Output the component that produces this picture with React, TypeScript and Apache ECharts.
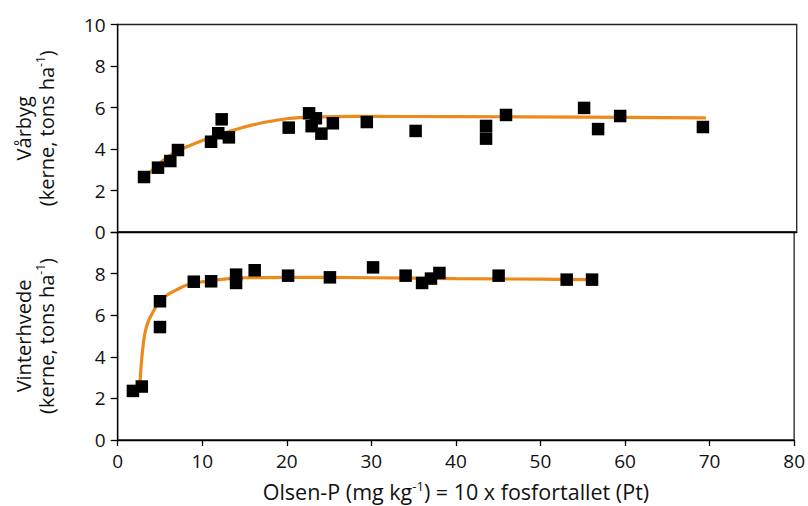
import React, { useEffect, useRef } from "react";
import * as echarts from "echarts";

// Vårbyg (spring barley) observations [Olsen-P, yield]
const barleyPoints: [number, number][] = [
  [3.1, 2.65], [4.75, 3.1], [6.2, 3.42], [7.1, 3.95], [11.0, 4.35],
  [11.85, 4.76], [12.25, 5.43], [13.1, 4.56], [20.15, 5.03], [22.55, 5.72],
  [23.35, 5.48], [22.85, 5.1], [24.0, 4.74], [25.35, 5.24], [29.35, 5.3],
  [35.1, 4.87], [43.4, 5.11], [43.4, 4.5], [45.75, 5.64], [54.95, 5.98],
  [56.6, 4.96], [59.2, 5.59], [68.95, 5.06],
];
// fitted response curve
const barleyCurve: [number, number][] = [
  [3.6, 2.78], [5.4, 3.47], [7.3, 3.95], [9.3, 4.3], [11.3, 4.6],
  [14.4, 5.0], [17.5, 5.3], [20.1, 5.47], [23, 5.54], [28, 5.57],
  [40, 5.56], [55, 5.54], [69.3, 5.5],
];

// Vinterhvede (winter wheat) observations
const wheatPoints: [number, number][] = [
  [1.8, 2.36], [2.85, 2.57], [5.0, 6.67], [5.0, 5.43], [9.0, 7.61],
  [11.05, 7.63], [14.0, 7.95], [14.0, 7.55], [16.2, 8.16], [20.15, 7.9],
  [25.1, 7.82], [30.2, 8.3], [34.05, 7.9], [36.0, 7.55], [37.05, 7.76],
  [38.05, 8.03], [45.05, 7.9], [53.1, 7.71], [56.1, 7.71],
];
const wheatCurve: [number, number][] = [
  [2.63, 2.7], [2.94, 4.3], [3.4, 5.45], [4.2, 6.18], [5.4, 6.83],
  [7.0, 7.23], [8.5, 7.5], [10.5, 7.63], [12, 7.71], [15, 7.8],
  [20, 7.82], [30, 7.8], [40, 7.76], [50, 7.73], [56, 7.71],
];

const xTicks = [0, 10, 20, 30, 40, 50, 60, 70, 80];
const yTicks = [0, 2, 4, 6, 8, 10];

const FONT = "'Open Sans', 'Noto Sans', sans-serif";
const TXT = "#111";
const ORANGE = "#EE8A1A";
const TICK_FS = 19;
const TITLE_FS = 20;
const XTITLE_FS = 21.5;

export default function App() {
  const ref = useRef<HTMLDivElement>(null);
  useEffect(() => {
    if (!ref.current) return;
    const chart = echarts.init(ref.current, null, { renderer: "svg" });
    const richBase = {
      t: { fontSize: TITLE_FS, fontFamily: FONT, color: TXT, lineHeight: 23 },
      s: { fontSize: 12, fontFamily: FONT, color: TXT, lineHeight: 13, verticalAlign: "top" },
    };
    const richX = {
      t: { fontSize: XTITLE_FS, fontFamily: FONT, color: TXT, lineHeight: 25 },
      s: { fontSize: 13, fontFamily: FONT, color: TXT, lineHeight: 14, verticalAlign: "top" },
    };
    const yAxisBase = (gridIndex: number, name: string, hideTop: boolean) => ({
      type: "value",
      gridIndex,
      min: yTicks[0],
      max: yTicks[yTicks.length - 1],
      interval: 2,
      name,
      nameLocation: "middle",
      nameGap: 60,
      nameRotate: 90,
      nameTextStyle: { rich: richBase, align: "center" },
      axisLine: { show: true, lineStyle: { color: "#000", width: 1.3 } },
      axisTick: { show: true, inside: false, length: 7, lineStyle: { color: "#000", width: 1.3 } },
      axisLabel: {
        margin: 12,
        fontSize: TICK_FS,
        fontFamily: FONT,
        color: TXT,
        formatter: (v: number) => (hideTop && v === 10 ? "" : String(v)),
      },
      splitLine: { show: false },
    });
    chart.setOption({
      animation: false,
      backgroundColor: "#fff",
      grid: [
        { left: 117.7, right: 11.3, top: 24.5, height: 207.5, show: true, borderColor: "#222", borderWidth: 1.3, backgroundColor: "transparent" },
        { left: 117.7, right: 11.3, top: 232, height: 208, show: true, borderColor: "#222", borderWidth: 1.3, backgroundColor: "transparent" },
      ],
      xAxis: [
        {
          type: "value", gridIndex: 0, min: xTicks[0], max: xTicks[xTicks.length - 1], interval: 10,
          axisLine: { show: true, lineStyle: { color: "#000", width: 1.3 } },
          axisTick: { show: false }, axisLabel: { show: false }, splitLine: { show: false },
        },
        {
          type: "value", gridIndex: 1, min: xTicks[0], max: xTicks[xTicks.length - 1], interval: 10,
          name: "{t|Olsen-P (mg kg}{s|-1}{t|) = 10 x fosfortallet (Pt)}",
          nameLocation: "middle",
          nameGap: 39,
          nameTextStyle: { rich: richX },
          axisLine: { show: true, lineStyle: { color: "#000", width: 1.3 } },
          axisTick: { show: true, inside: false, length: 6, lineStyle: { color: "#000", width: 1.3 } },
          axisLabel: { margin: 11, fontSize: TICK_FS, fontFamily: FONT, color: TXT },
          splitLine: { show: false },
        },
      ],
      yAxis: [
        yAxisBase(0, "{t|Vårbyg}\n{t|(kerne, tons ha}{s|-1}{t|)}", false),
        yAxisBase(1, "{t|Vinterhvede}\n{t|(kerne, tons ha}{s|-1}{t|)}", true),
      ],
      series: [
        {
          type: "line", xAxisIndex: 0, yAxisIndex: 0, data: barleyCurve, smooth: 0.4,
          showSymbol: false, lineStyle: { color: ORANGE, width: 3.2 }, z: 2,
        },
        {
          type: "scatter", xAxisIndex: 0, yAxisIndex: 0, data: barleyPoints,
          symbol: "rect", symbolSize: 12.5, itemStyle: { color: "#000", opacity: 1 }, z: 3,
        },
        {
          type: "line", xAxisIndex: 1, yAxisIndex: 1, data: wheatCurve, smooth: 0.4,
          showSymbol: false, lineStyle: { color: ORANGE, width: 3.2 }, z: 2,
        },
        {
          type: "scatter", xAxisIndex: 1, yAxisIndex: 1, data: wheatPoints,
          symbol: "rect", symbolSize: 12.5, itemStyle: { color: "#000", opacity: 1 }, z: 3,
        },
      ],
    });
    return () => chart.dispose();
  }, []);
  return (
    <div
      ref={ref}
      style={{ position: "fixed", left: 0, top: 0, width: 808, height: 506 }}
    />
  );
}
